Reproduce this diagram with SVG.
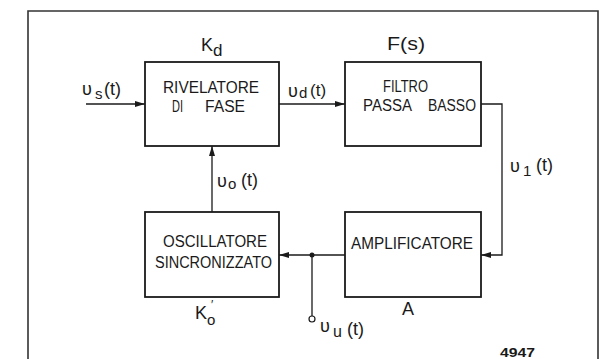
<svg xmlns="http://www.w3.org/2000/svg" width="605" height="359" viewBox="0 0 605 359">
<style>
.box{fill:#fff;stroke:#1a1a1a;stroke-width:1.8}
.bt{font-family:"Liberation Sans",Arial,sans-serif;font-size:16px;fill:#1a1a1a}
.lb{font-family:"Liberation Sans",Arial,sans-serif;font-size:18px;fill:#1a1a1a}
.ln{fill:none;stroke:#1a1a1a;stroke-width:1.3}
.fr{fill:none;stroke:#333;stroke-width:1.6}
</style>
<defs>
<marker id="ah" viewBox="0 0 10 6" refX="10" refY="3" markerWidth="10" markerHeight="6" orient="auto" markerUnits="userSpaceOnUse"><path d="M0,0 L10,3 L0,6 z" fill="#1a1a1a"/></marker>
</defs>
<rect width="605" height="359" fill="#fff"/>
<path class="fr" d="M28,359 V11 H598 V359"/>
<g id="connectors">
<path class="ln" d="M86,104 H145" marker-end="url(#ah)"/>
<path class="ln" d="M279,104 H345" marker-end="url(#ah)"/>
<path class="ln" d="M481,104 H502 V255 H481" marker-end="url(#ah)"/>
<path class="ln" d="M345,255 H279" marker-end="url(#ah)"/>
<path class="ln" d="M212,212 V146" marker-end="url(#ah)"/>
<path class="ln" d="M312,255 V316"/>
<circle cx="312" cy="255" r="2.5" fill="#1a1a1a"/>
<circle cx="312" cy="319" r="3" fill="#fff" stroke="#1a1a1a" stroke-width="1.2"/>
</g>
<g id="rivelatore">
<rect class="box" x="145" y="62" width="134" height="84"/>
<text class="bt" x="163" y="93" textLength="96" lengthAdjust="spacingAndGlyphs">RIVELATORE</text>
<text class="bt" x="172" y="112" textLength="11" lengthAdjust="spacingAndGlyphs">DI</text>
<text class="bt" x="205" y="112" textLength="40" lengthAdjust="spacingAndGlyphs">FASE</text>
<text class="lb" x="201" y="51">K<tspan x="213" y="56" font-size="17">d</tspan></text>
</g>
<g id="filtro">
<rect class="box" x="345" y="62" width="136" height="84"/>
<text class="bt" x="383" y="92" textLength="45" lengthAdjust="spacingAndGlyphs">FILTRO</text>
<text class="bt" x="363" y="111" textLength="49" lengthAdjust="spacingAndGlyphs">PASSA</text>
<text class="bt" x="428" y="111" textLength="48" lengthAdjust="spacingAndGlyphs">BASSO</text>
<text class="lb" x="387" y="50" textLength="38" lengthAdjust="spacingAndGlyphs">F(s)</text>
</g>
<g id="oscillatore">
<rect class="box" x="145" y="212" width="134" height="85"/>
<text class="bt" x="163" y="247" textLength="104" lengthAdjust="spacingAndGlyphs">OSCILLATORE</text>
<text class="bt" x="155" y="268" textLength="117" lengthAdjust="spacingAndGlyphs">SINCRONIZZATO</text>
<text class="lb" x="195" y="319">K<tspan x="211" y="308.5" font-size="12">′</tspan><tspan x="207" y="325" font-size="15">o</tspan></text>
</g>
<g id="amplificatore">
<rect class="box" x="345" y="212" width="136" height="85"/>
<text class="bt" x="351" y="249" textLength="122" lengthAdjust="spacingAndGlyphs">AMPLIFICATORE</text>
<text class="lb" x="402" y="315">A</text>
</g>
<g id="labels">
<text class="lb" x="82" y="95" font-size="21">υ<tspan x="95" y="99" font-size="15">s</tspan><tspan x="104" y="95" font-size="18">(t)</tspan></text>
<text class="lb" x="288" y="97" font-size="21">υ<tspan x="299" y="98" font-size="15">d</tspan><tspan x="310" y="96" font-size="17">(t)</tspan></text>
<text class="lb" x="510" y="172" font-size="21">υ<tspan x="523" y="176" font-size="15">1</tspan><tspan x="536" y="171" font-size="18">(t)</tspan></text>
<text class="lb" x="217" y="187" font-size="21">υ<tspan x="228" y="189" font-size="15">o</tspan><tspan x="241" y="186" font-size="18">(t)</tspan></text>
<text class="lb" x="320" y="332" font-size="21">υ<tspan x="333" y="337" font-size="16">u</tspan><tspan x="347" y="335" font-size="18">(t)</tspan></text>
<text x="500" y="357" font-family="Liberation Sans,Arial,sans-serif" font-size="13" font-weight="bold" fill="#1a1a1a" textLength="35" lengthAdjust="spacingAndGlyphs">4947</text>
</g>
</svg>
